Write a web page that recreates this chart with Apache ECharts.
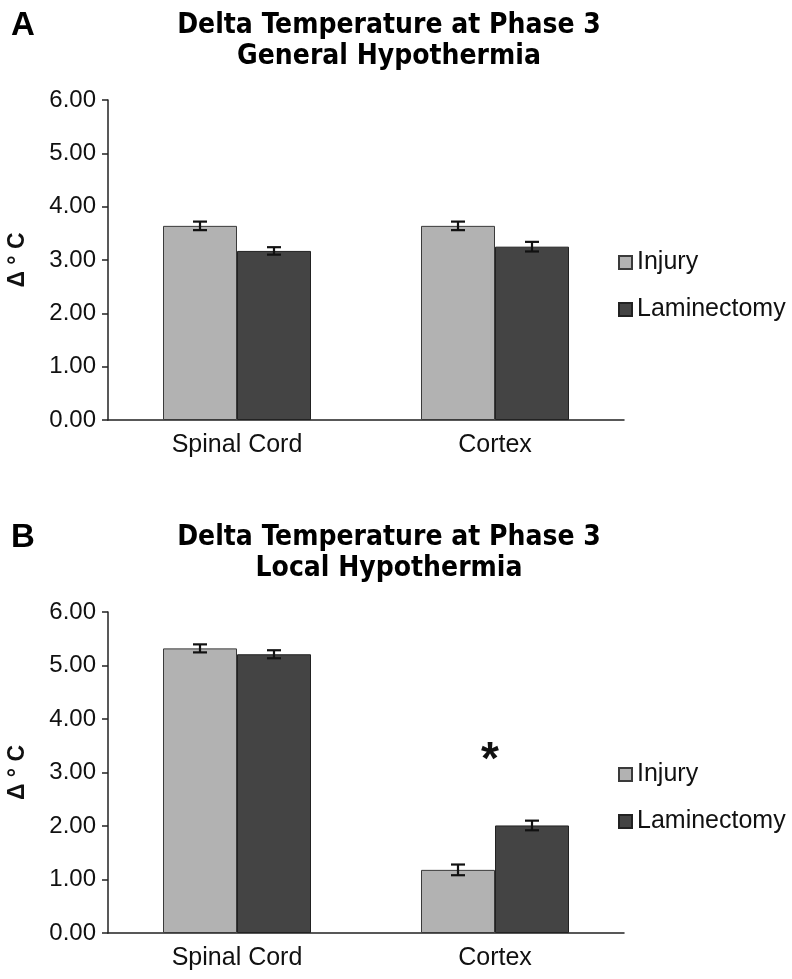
<!DOCTYPE html>
<html>
<head>
<meta charset="utf-8">
<script src="https://cdn.jsdelivr.net/npm/echarts@6/dist/echarts.min.js"></script>
<style>
html,body{margin:0;padding:0;background:#fff;}
#chart{width:792px;height:979px;}
</style>
</head>
<body>
<div id="chart"></div>
<script>
// ---- data ----
const categories = ['Spinal Cord', 'Cortex'];
const seriesNames = ['Injury', 'Laminectomy'];
const panelLabels = ['A', 'B'];
const panelTitles = ['Delta Temperature at Phase 3\nGeneral Hypothermia', 'Delta Temperature at Phase 3\nLocal Hypothermia'];
const yAxisName = 'Δ ° C';
const yMin = 0, yMax = 6, yInterval = 1;

const generalInjury = [3.64, 3.64];
const generalInjuryErr = [0.08, 0.08];
const generalLaminectomy = [3.17, 3.25];
const generalLaminectomyErr = [0.07, 0.09];

const localInjury = [5.32, 1.18];
const localInjuryErr = [0.075, 0.10];
const localLaminectomy = [5.21, 2.01];
const localLaminectomyErr = [0.075, 0.09];

const localSignificance = [[1, 3.38, '*']];

// ---- styles ----
const BAR_W = 74;
const colors = ['#b2b2b2', '#444444'];
const borderColors = ['#3a3a3a', '#222222'];
const FONT = "'Liberation Sans', Arial, Helvetica, sans-serif";
const TITLE_FONT = "'Liberation Sans Narrow', 'DejaVu Sans Condensed', 'Liberation Sans', sans-serif";

const grids = [
  {left: 108, top: 100, width: 516, height: 320, outerBoundsMode: 'none', containLabel: false},
  {left: 108, top: 612, width: 516, height: 321, outerBoundsMode: 'none', containLabel: false}
];

function errData(vals, errs, sIdx) {
  return vals.map((v, i) => [i, v, errs[i], sIdx]);
}

function renderErr(params, api) {
  const c = api.value(0), v = api.value(1), e = api.value(2), s = api.value(3);
  const off = (s === 0 ? -1 : 1) * BAR_W / 2;
  const top = api.coord([c, v + e]);
  const bot = api.coord([c, v - e]);
  const x = top[0] + off;
  const cap = 7;
  const st = {stroke: '#111', lineWidth: 2.2};
  return {
    type: 'group',
    children: [
      {type: 'line', shape: {x1: x, y1: top[1], x2: x, y2: bot[1]}, style: st},
      {type: 'line', shape: {x1: x - cap, y1: top[1], x2: x + cap, y2: top[1]}, style: st},
      {type: 'line', shape: {x1: x - cap, y1: bot[1], x2: x + cap, y2: bot[1]}, style: st}
    ]
  };
}

const panels = [
  {inj: generalInjury, injErr: generalInjuryErr, lam: generalLaminectomy, lamErr: generalLaminectomyErr},
  {inj: localInjury, injErr: localInjuryErr, lam: localLaminectomy, lamErr: localLaminectomyErr}
];

const series = [];
panels.forEach((p, gi) => {
  [p.inj, p.lam].forEach((vals, si) => {
    series.push({
      type: 'bar', name: seriesNames[si], xAxisIndex: gi, yAxisIndex: gi,
      data: vals, barWidth: BAR_W, barGap: '0%',
      itemStyle: {color: colors[si], borderColor: borderColors[si], borderWidth: 1},
      emphasis: {disabled: true}
    });
  });
  series.push({
    type: 'custom', xAxisIndex: gi, yAxisIndex: gi, renderItem: renderErr,
    data: errData(p.inj, p.injErr, 0).concat(errData(p.lam, p.lamErr, 1)),
    encode: {x: 0, y: 1}, z: 5, silent: true
  });
});
series.push({
  type: 'custom', xAxisIndex: 1, yAxisIndex: 1,
  data: localSignificance,
  encode: {x: 0, y: 1},
  renderItem: function (params, api) {
    const p = api.coord([api.value(0), api.value(1)]);
    return {
      type: 'text', x: p[0] - 5, y: p[1] + 9,
      style: {text: localSignificance[params.dataIndex][2], fontSize: 46, fontWeight: 'bold',
        fill: '#111', fontFamily: FONT, align: 'center', verticalAlign: 'middle'}
    };
  },
  silent: true, z: 6
});

const titles = [];
grids.forEach((g, i) => {
  titles.push({text: panelLabels[i], left: 6, top: g.top - 96, textStyle: {fontSize: 33, fontWeight: 'bold', color: '#000', fontFamily: FONT}});
  titles.push({text: panelTitles[i], left: 384, textAlign: 'center', top: g.top - 95,
    textStyle: {fontSize: 28, fontWeight: 'bold', color: '#000', fontFamily: TITLE_FONT, lineHeight: 31}});
});

const legends = grids.map((g, i) => ({
  orient: 'vertical', left: 613, top: g.top + 145,
  itemWidth: 13, itemHeight: 13, itemGap: 22,
  data: seriesNames, icon: 'rect',
  textStyle: {fontSize: 25, color: '#111', fontFamily: FONT, padding: [0, 0, 0, 0]},
  selectedMode: false
}));

const option = {
  animation: false,
  backgroundColor: '#fff',
  title: titles,
  legend: legends,
  grid: grids,
  xAxis: grids.map((g, i) => ({
    type: 'category', gridIndex: i, data: categories,
    axisLine: {lineStyle: {color: '#222', width: 1.5}},
    axisTick: {show: false},
    axisLabel: {fontSize: 25, color: '#111', fontFamily: FONT, margin: 13}
  })),
  yAxis: grids.map((g, i) => ({
    type: 'value', gridIndex: i, min: yMin, max: yMax, interval: yInterval,
    name: yAxisName, nameLocation: 'middle', nameGap: 79, nameRotate: 90,
    nameTextStyle: {fontSize: 23, fontWeight: 'bold', color: '#111', fontFamily: FONT},
    axisLine: {show: true, lineStyle: {color: '#222', width: 1.5}},
    axisTick: {show: true, length: 6, lineStyle: {color: '#222', width: 1.5}},
    splitLine: {show: false},
    axisLabel: {fontSize: 24, color: '#111', fontFamily: FONT, margin: 12, formatter: v => v.toFixed(2)}
  })),
  series: series
};

const chart = echarts.init(document.getElementById('chart'), null, {renderer: 'canvas'});
chart.setOption(option);
</script>
</body>
</html>
